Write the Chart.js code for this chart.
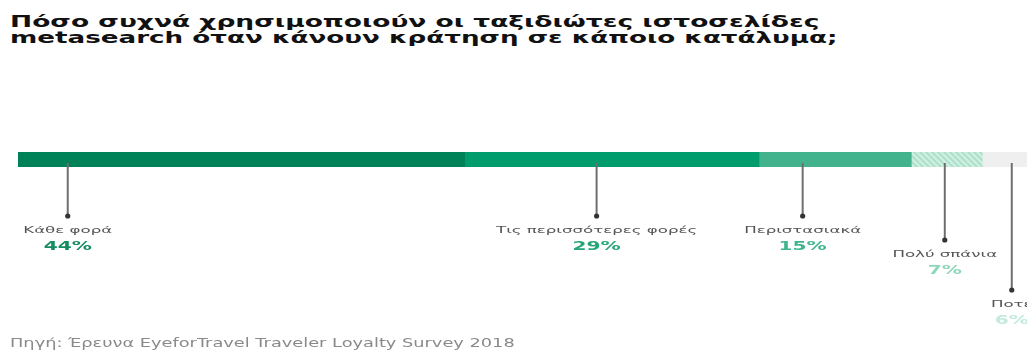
<!DOCTYPE html>
<html>
<head>
<meta charset="utf-8">
<script src="https://cdn.jsdelivr.net/npm/chart.js@4.4.1/dist/chart.umd.min.js"></script>
<style>
  html, body { margin: 0; padding: 0; background: #fff; }
  #wrap { position: relative; width: 1027px; height: 358px; overflow: hidden; }
  #chart { position: absolute; left: 0; top: 0; }
  .line {
    position: absolute; display: inline-block; white-space: nowrap;
    transform-origin: 0 0;
  }
  .title { font: bold 15px "DejaVu Sans"; line-height: 16px; color: #111; left: 10px; }
  .source { font: 12px "DejaVu Sans"; line-height: 12px; color: #8a8a8a; left: 10px; top: 337px; }
</style>
</head>
<body>
<div id="wrap">
  <span class="line title" style="top:14px" data-fit="810">Πόσο συχνά χρησιμοποιούν οι ταξιδιώτες ιστοσελίδες</span>
  <span class="line title" style="top:30px" data-fit="827">metasearch όταν κάνουν κράτηση σε κάποιο κατάλυμα;</span>
  <canvas id="chart" width="1027" height="358"></canvas>
  <span class="line source" data-fit="505">Πηγή: Έρευνα EyeforTravel Traveler Loyalty Survey 2018</span>
</div>
<script>
// data
const categories = ['Κάθε φορά', 'Τις περισσότερες φορές', 'Περιστασιακά', 'Πολύ σπάνια', 'Ποτέ'];
const values = [44, 29, 15, 7, 6];

// styles
const barColors = ['#008259', '#009c6b', '#43b38d', 'hatch', '#efefef'];
const pctColors = ['#168c61', '#25a677', '#3fb58b', '#8fd6bb', '#c3eadb'];
// where each leader line sits along the bar (axis units) and how far it drops (px)
const calloutAt = [4.9, 57.0, 77.3, 91.3, 97.9];
const calloutDrop = [49, 49, 49, 73, 123];

// stretch the html text lines to the widths of the original
document.querySelectorAll('[data-fit]').forEach((el) => {
  el.style.transform = 'scaleX(' + (el.dataset.fit / el.offsetWidth) + ')';
});

function hatchPattern() {
  const p = document.createElement('canvas');
  p.width = 6; p.height = 6;
  const c = p.getContext('2d');
  c.fillStyle = '#cdeee0';
  c.fillRect(0, 0, 6, 6);
  c.strokeStyle = '#a9dfc8';
  c.lineWidth = 1.6;
  c.beginPath();
  c.moveTo(-1, -1); c.lineTo(7, 7);
  c.moveTo(-4, 2); c.lineTo(2, 8);
  c.moveTo(2, -4); c.lineTo(8, 2);
  c.stroke();
  return document.getElementById('chart').getContext('2d').createPattern(p, 'repeat');
}

function stretchText(c, txt, x, y, sx) {
  c.save();
  c.translate(x, y);
  c.scale(sx, 1);
  c.textAlign = 'center';
  c.textBaseline = 'alphabetic';
  c.fillText(txt, 0, 0);
  c.restore();
}

const callouts = {
  id: 'callouts',
  afterDatasetsDraw(chart) {
    const c = chart.ctx;
    const xs = chart.scales.x;
    const area = chart.chartArea;
    categories.forEach((cat, i) => {
      const x = xs.getPixelForValue(calloutAt[i]);
      const yEnd = area.bottom + calloutDrop[i];
      c.save();
      c.strokeStyle = '#6e6e6e';
      c.lineWidth = 2;
      c.beginPath();
      c.moveTo(x, area.bottom - 4);
      c.lineTo(x, yEnd);
      c.stroke();
      c.fillStyle = '#333';
      c.beginPath();
      c.arc(x, yEnd, 2.6, 0, Math.PI * 2);
      c.fill();

      c.fillStyle = '#555';
      c.font = '9.5px "DejaVu Sans"';
      stretchText(c, cat, x, yEnd + 17, 1.75);
      c.fillStyle = pctColors[i];
      c.font = 'bold 11.5px "DejaVu Sans"';
      stretchText(c, values[i] + '%', x, yEnd + 34, 1.75);
      c.restore();
    });
  }
};

const ctx = document.getElementById('chart');
const hatch = hatchPattern();

new Chart(ctx, {
  type: 'bar',
  data: {
    labels: [''],
    datasets: categories.map((cat, i) => ({
      label: cat,
      data: [values[i]],
      backgroundColor: barColors[i] === 'hatch' ? hatch : barColors[i],
      borderWidth: 0,
      barPercentage: 1,
      categoryPercentage: 1,
    })),
  },
  options: {
    indexAxis: 'y',
    responsive: false,
    animation: false,
    layout: { padding: { left: 18, right: 0, top: 152, bottom: 191 } },
    scales: {
      x: { stacked: true, min: 0, max: 99.4, display: false },
      y: { stacked: true, display: false },
    },
    plugins: {
      legend: { display: false },
      tooltip: { enabled: false },
    },
  },
  plugins: [callouts],
});
</script>
</body>
</html>
